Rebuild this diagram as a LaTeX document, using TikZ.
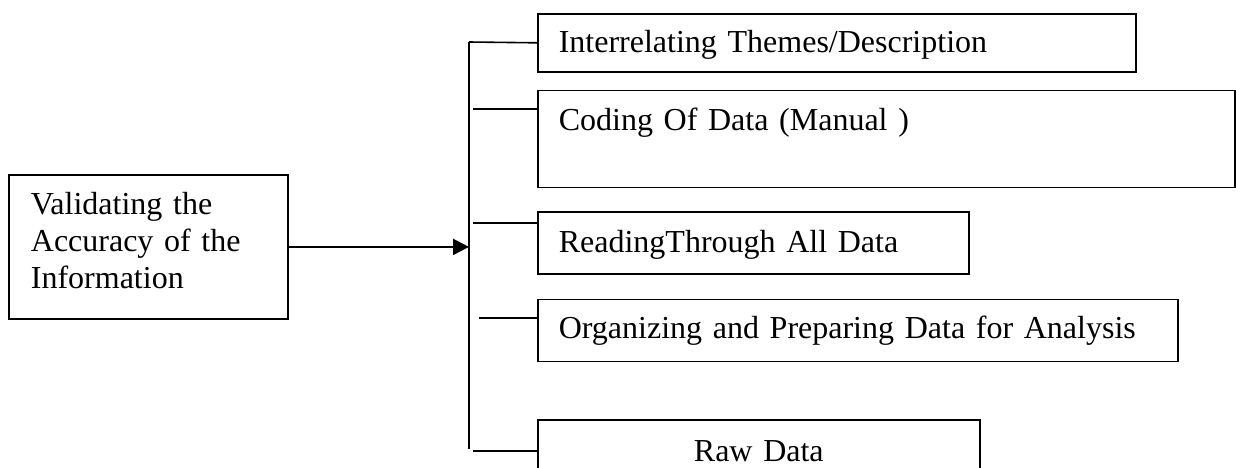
\documentclass[tikz,border=0pt]{standalone}
\usepackage{fontspec}
\setmainfont{Liberation Serif}
\usepackage{tikz}
\usetikzlibrary{positioning}
\usetikzlibrary{arrows.meta}
\newcommand{\stagefont}{\fontsize{32}{37}\selectfont}
\tikzstyle{stage} = [rectangle, draw, black, line width=1.6pt, anchor=north west, inner xsep=21pt, inner ysep=0pt, text height=40pt, text depth=21pt, align=left, font=\stagefont]
\tikzstyle{source} = [rectangle, draw, black, line width=1.8pt, anchor=north west, inner xsep=21pt, align=left, font=\stagefont]
\tikzstyle{spine} = [draw, black, line width=2.2pt]
\tikzstyle{branch} = [draw, black, line width=1.6pt]
\tikzstyle{flow} = [draw, black, line width=2.2pt, -{Triangle[length=16pt,width=16pt]}]

\begin{document}
\begin{tikzpicture}[x=1pt, y=-1pt]
            \useasboundingbox (0,0) rectangle (1236,467);
            \node[source, minimum width=279pt, minimum height=144pt, text width=235pt] (validate) at (8,174) {Validating the\\Accuracy of the\\Information\rule[-13pt]{0pt}{0pt}};
            \node[stage, text width=556pt, text height=39pt, text depth=19pt] (interrelate) at (537,13) {Interrelating Themes/Description};
            \node[stage, text width=655pt, text depth=57pt] (coding) [below=17pt of interrelate.south west, anchor=north west] {Coding Of Data (Manual )};
            \node[stage, text width=389pt, text depth=22pt] (reading) [below=23pt of coding.south west, anchor=north west] {ReadingThrough All Data};
            \node[stage, text width=598pt, text height=39pt, text depth=23pt] (organize) [below=24pt of reading.south west, anchor=north west] {Organizing and Preparing Data for Analysis};
            \node[stage, text width=400pt, text height=41pt, text depth=22pt, align=center] (rawdata) [below=57pt of organize.south west, anchor=north west] {Raw Data};
            % spine and branches
            \coordinate (spinetop) at (469,42);
            \coordinate (spinebot) at (469,449);
            \coordinate (codingfork) at (473,109);
            \coordinate (readingfork) at (473,223);
            \coordinate (organizefork) at (479,318);
            \coordinate (rawfork) at (473,451);
            \draw[spine] (spinetop) -- (spinebot);
            \draw[branch] (spinetop) -- (interrelate.west);
            \draw[branch] (codingfork) -- (codingfork -| coding.west);
            \draw[branch] (readingfork) -- (readingfork -| reading.west);
            \draw[branch] (organizefork) -- (organizefork -| organize.west);
            \draw[branch] (rawfork) -- (rawfork -| rawdata.west);
            \draw[flow] (validate) -- (validate -| spinetop);
          \end{tikzpicture}
\end{document}
